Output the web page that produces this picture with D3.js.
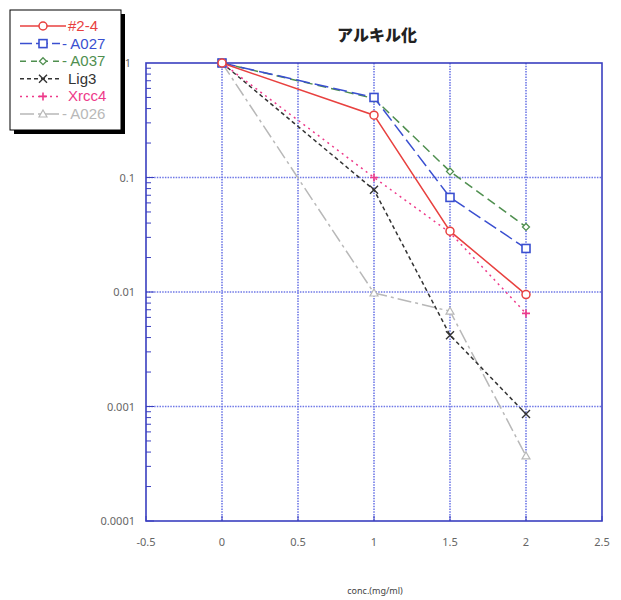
<!DOCTYPE html>
<html>
<head>
<meta charset="utf-8">
<script src="https://cdn.jsdelivr.net/npm/d3@7"></script>
<style>
  body { margin: 0; background: #fff; }
  text { font-family: "Noto Sans", "DejaVu Sans", sans-serif; }
</style>
</head>
<body>
<svg id="chart" width="621" height="600"></svg>
<script>
// data
const conc = [0, 1, 1.5, 2];
const seriesNames = ['#2-4', 'A027', 'A037', 'Lig3', 'Xrcc4', 'A026'];
const s24   = [1, 0.35, 0.034, 0.0095];
const a027  = [1, 0.50, 0.067, 0.024];
const a037  = [1, 0.49, 0.113, 0.037];
const lig3  = [1, 0.078, 0.0042, 0.00086];
const xrcc4 = [1, 0.10, 0.033, 0.0065];
const a026  = [1, 0.0098, 0.0068, 0.00037];
const xTicks = [-0.5, 0, 0.5, 1, 1.5, 2, 2.5];
const yTicks = [1, 0.1, 0.01, 0.001, 0.0001];

const styles = [
    { color: '#e8413f', dash: null, marker: 'circle' },
    { color: '#3a4fd0', dash: '14,5', marker: 'square' },
    { color: '#4f8f4f', dash: '9,5', marker: 'diamond' },
    { color: '#333333', dash: '4,3', marker: 'cross' },
    { color: '#ee3a8a', dash: '2,4', marker: 'plus' },
    { color: '#b8b8b8', dash: '14,4,3,4', marker: 'triangle' }
];
const allSeries = [s24, a027, a037, lig3, xrcc4, a026];

const svg = d3.select('#chart');
const plotL = 146, plotR = 602, plotT = 63, plotB = 521;

const x = d3.scaleLinear().domain([-0.5, 2.5]).range([plotL, plotR]);
const y = d3.scaleLog().domain([0.0001, 1]).range([plotB, plotT]);

// grid
const grid = svg.append('g');
grid.selectAll('.vg')
    .data(xTicks.slice(1, -1))
    .enter().append('line')
    .attr('x1', d => x(d)).attr('x2', d => x(d))
    .attr('y1', plotT).attr('y2', plotB)
    .attr('stroke', '#6f78e6').attr('stroke-width', 1.6)
    .attr('stroke-dasharray', '1.5,1.2');
grid.selectAll('.hg')
    .data(yTicks.slice(1, -1))
    .enter().append('line')
    .attr('x1', plotL).attr('x2', plotR)
    .attr('y1', d => y(d)).attr('y2', d => y(d))
    .attr('stroke', '#6f78e6').attr('stroke-width', 1.6)
    .attr('stroke-dasharray', '1.5,1.2');

// frame
svg.append('rect')
    .attr('x', plotL).attr('y', plotT)
    .attr('width', plotR - plotL).attr('height', plotB - plotT)
    .attr('fill', 'none').attr('stroke', '#3a3fc0').attr('stroke-width', 1.6);

// minor ticks on y axis
const minor = [];
for (let e = -4; e < 0; e++) {
    for (let m = 1; m <= 9; m++) minor.push(m * Math.pow(10, e));
}
svg.append('g').selectAll('line')
    .data(minor)
    .enter().append('line')
    .attr('x1', plotL).attr('x2', d => plotL + (Math.abs(Math.log10(d) - Math.round(Math.log10(d))) < 1e-9 ? 8 : 5))
    .attr('y1', d => y(d)).attr('y2', d => y(d))
    .attr('stroke', '#3a3fc0').attr('stroke-width', 1);

// x ticks
svg.append('g').selectAll('line')
    .data(xTicks)
    .enter().append('line')
    .attr('x1', d => x(d)).attr('x2', d => x(d))
    .attr('y1', plotB).attr('y2', plotB - 5)
    .attr('stroke', '#3a3fc0').attr('stroke-width', 1);

// tick labels
svg.append('g').selectAll('text')
    .data(xTicks)
    .enter().append('text')
    .attr('x', d => x(d)).attr('y', plotB + 25)
    .attr('text-anchor', 'middle')
    .style('font-size', '11px').style('fill', '#666')
    .text(d => d);

svg.append('g').selectAll('text')
    .data(yTicks)
    .enter().append('text')
    .attr('x', d => d === 1 ? 131 : 135).attr('y', d => y(d) + 4)
    .attr('text-anchor', 'end')
    .style('font-size', '11px').style('fill', '#666')
    .text(d => d === 1 ? '1' : d3.format('')(d));

// titles
svg.append('text')
    .attr('x', 377).attr('y', 41)
    .attr('text-anchor', 'middle')
    .style('font-family', '"Noto Sans CJK JP", sans-serif')
    .style('font-size', '16px').style('font-weight', '900').style('fill', '#222')
    .text('アルキル化');

svg.append('text')
    .attr('x', 375).attr('y', 594)
    .attr('text-anchor', 'middle')
    .style('font-size', '9px').style('fill', '#444')
    .text('conc.(mg/ml)');

// markers
function drawMarker(g, type, color, cx, cy) {
    if (type === 'circle') {
        g.append('circle').attr('cx', cx).attr('cy', cy).attr('r', 4)
            .attr('fill', '#fff').attr('stroke', color).attr('stroke-width', 1.5);
    } else if (type === 'square') {
        g.append('rect').attr('x', cx - 4).attr('y', cy - 4).attr('width', 8).attr('height', 8)
            .attr('fill', '#fff').attr('stroke', color).attr('stroke-width', 1.6);
    } else if (type === 'diamond') {
        g.append('path').attr('d', `M${cx},${cy - 3.5}L${cx + 3.5},${cy}L${cx},${cy + 3.5}L${cx - 3.5},${cy}Z`)
            .attr('fill', '#fff').attr('stroke', color).attr('stroke-width', 1.3);
    } else if (type === 'cross') {
        g.append('path').attr('d', `M${cx - 4},${cy - 4}L${cx + 4},${cy + 4}M${cx - 4},${cy + 4}L${cx + 4},${cy - 4}`)
            .attr('stroke', color).attr('stroke-width', 1.4);
    } else if (type === 'plus') {
        g.append('path').attr('d', `M${cx - 4},${cy}L${cx + 4},${cy}M${cx},${cy - 4}L${cx},${cy + 4}`)
            .attr('stroke', color).attr('stroke-width', 1.6);
    } else if (type === 'triangle') {
        g.append('path').attr('d', `M${cx},${cy - 4}L${cx + 4},${cy + 3}L${cx - 4},${cy + 3}Z`)
            .attr('fill', '#fff').attr('stroke', color).attr('stroke-width', 1.2);
    }
}

const line = d3.line().x((d, i) => x(conc[i])).y(d => y(d));

// draw series back to front
const order = [5, 3, 4, 2, 1, 0];
order.forEach(k => {
    const st = styles[k];
    const g = svg.append('g');
    g.append('path')
        .attr('d', line(allSeries[k]))
        .attr('fill', 'none')
        .attr('stroke', st.color)
        .attr('stroke-width', 1.5)
        .attr('stroke-dasharray', st.dash);
    allSeries[k].forEach((v, i) => drawMarker(g, st.marker, st.color, x(conc[i]), y(v)));
});

// legend
const lg = svg.append('g');
lg.append('rect').attr('x', 14).attr('y', 14).attr('width', 111).attr('height', 120).attr('fill', '#000');
lg.append('rect').attr('x', 10).attr('y', 10).attr('width', 111).attr('height', 120)
    .attr('fill', '#fff').attr('stroke', '#000').attr('stroke-width', 1);
const legendLabels = ['#2-4', '- A027', '- A037', 'Lig3', 'Xrcc4', '- A026'];
seriesNames.forEach((name, i) => {
    const st = styles[i];
    const ly = 26 + i * 17.6;
    lg.append('line')
        .attr('x1', 20).attr('x2', i === 0 ? 66 : 60).attr('y1', ly).attr('y2', ly)
        .attr('stroke', st.color).attr('stroke-width', 1.5)
        .attr('stroke-dasharray', st.dash ? (i === 1 ? '12,4' : i === 2 ? '6,5' : st.dash) : null);
    drawMarker(lg, st.marker, st.color, 43, ly);
    lg.append('text')
        .attr('x', i === 0 ? 68 : (i === 3 || i === 4 ? 68 : 62)).attr('y', ly + 5)
        .style('font-family', '"Liberation Sans", Arial, sans-serif')
        .style('font-size', '15px')
        .style('fill', st.color)
        .text(legendLabels[i]);
});
</script>
</body>
</html>
